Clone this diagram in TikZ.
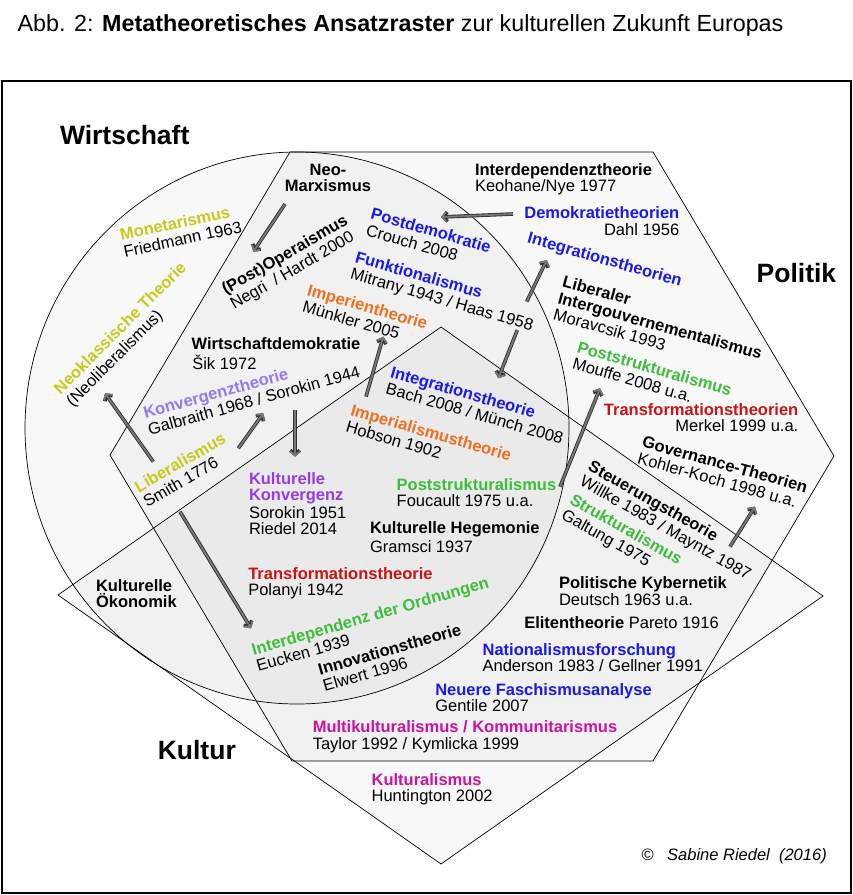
\documentclass[tikz,border=0pt]{standalone}
\usepackage{fontspec}
\setmainfont{Liberation Sans}
\usetikzlibrary{arrows.meta}
\definecolor{cyel}{RGB}{200,200,30}
\definecolor{cblue}{RGB}{25,25,235}
\definecolor{corange}{RGB}{240,110,30}
\definecolor{cgreen}{RGB}{60,190,60}
\definecolor{cred}{RGB}{200,20,20}
\definecolor{clav}{RGB}{150,120,240}
\definecolor{cpurp}{RGB}{150,60,230}
\definecolor{cmag}{RGB}{200,20,160}
\definecolor{agray}{RGB}{120,120,120}
\definecolor{adark}{RGB}{50,50,50}
\newcommand{\nm}[2]{\textcolor{#1}{\bfseries #2}}
\begin{document}
\begin{tikzpicture}[x=1pt,y=-1pt,
  tx/.style={inner sep=0pt, outer sep=0pt, font=\fontsize{16.5}{17.2}\selectfont},
  blk/.style={tx, align=left},
  big/.style={inner sep=0pt, outer sep=0pt, font=\fontsize{26.5}{30}\selectfont\bfseries},
  shp/.style={draw=black, line width=0.7pt, fill=black, fill opacity=0.028},
  garrow/.style={draw=agray, line width=1.8pt, -{Straight Barb[length=4pt,width=9.5pt]},
     preaction={draw=adark, line width=3.6pt, -{Straight Barb[length=4pt,width=9.5pt]}}}
]
\useasboundingbox (0,0) rectangle (853,895);
\fill[white] (0,0) rectangle (853,895);
\draw[line width=2pt] (2,81) rectangle (851,893);

% shapes
\path[shp] (297,428) ellipse [x radius=272pt, y radius=276pt];
\path[shp] (290,152) -- (653,152) -- (834,456) -- (653,761) -- (292,761) -- (110,455) -- cycle;
\path[shp] (441,327) -- (823,596) -- (441,864) -- (58,595) -- cycle;

% title and area names
\node[anchor=base west, inner sep=0pt, font=\fontsize{23.3}{26}\selectfont] (title) at (17.4,31.7)
  {Abb. 2: \textbf{Metatheoretisches Ansatzraster} zur kulturellen Zukunft Europas};
\node[big, anchor=base west] (wirt) at (60,144.3) {Wirtschaft};
\node[big, anchor=base west] (pol) at (756.7,282.7) {Politik};
\node[big, anchor=base west] (kul) at (157.8,759) {Kultur};
\node[anchor=base east, inner sep=0pt, font=\fontsize{16.5}{18}\selectfont\itshape] (copy) at (827,860)
  {©\ \ \ Sabine Riedel\ \ (2016)};

% rotated blocks
\node[blk, rotate=12] (mon) at (180.8,230.6) {\nm{cyel}{Monetarismus}\\Friedmann 1963};
\node[blk, rotate=45] (neokl) at (127,335) {\nm{cyel}{Neoklassische Theorie}\\(Neoliberalismus)};
\node[blk, rotate=30] (postop) at (289.5,263.2) {\bfseries (Post)Operaismus\\Negri\ \ / Hardt 2000};
\node[blk, rotate=-16] (postdem) at (428.6,238.4) {\nm{cblue}{Postdemokratie}\\Crouch 2008};
\node[blk, rotate=-16] (funkt) at (444.1,292.4) {\nm{cblue}{Funktionalismus}\\Mitrany 1943 / Haas 1958};
\node[blk, rotate=-16] (imperien) at (365.2,315) {\nm{corange}{Imperientheorie}\\Münkler 2005};
\node[blk, rotate=15.5] (konv) at (251.6,392.1) {\nm{clav}{Konvergenztheorie}\\Galbraith 1968 / Sorokin 1944};
\node[blk, rotate=30] (liberal) at (184.2,469.9) {\nm{cyel}{Liberalismus}\\Smith 1776};
\node[blk, rotate=-16] (integ) at (477.1,404.9) {\nm{cblue}{Integrationstheorie}\\Bach 2008 / Münch 2008};
\node[blk, rotate=-16] (imperial) at (428.8,440.8) {\nm{corange}{Imperialismustheorie}\\Hobson 1902};
\node[tx, rotate=-16] (integn) at (604.5,260.4) {\nm{cblue}{Integrationstheorien}};
\node[blk, rotate=-15.5] (libint) at (660.2,325.5) {\bfseries Liberaler\\\bfseries Intergouvernementalismus\\Moravcsik 1993};
\node[blk, rotate=-16] (mouffe) at (652.3,376.6) {\nm{cgreen}{Poststrukturalismus}\\Mouffe 2008 u.a.};
\node[blk, rotate=-15.6] (gov) at (722.7,472.5) {\bfseries Governance-Theorien\\Kohler-Koch 1998 u.a.};
\node[blk, rotate=-29.5] (steuer) at (669.3,521.3) {\bfseries Steuerungstheorie\\Willke 1983 / Mayntz 1987};
\node[blk, rotate=-29.5] (struk) at (621.4,537.9) {\nm{cgreen}{Strukturalismus}\\Galtung 1975};
\node[blk, rotate=16] (interd) at (372.5,624) {\nm{cgreen}{Interdependenz der Ordnungen}\\Eucken 1939};
\node[blk, rotate=16] (innov) at (391.9,657.5) {\bfseries Innovationstheorie\\Elwert 1996};

% horizontal lines
\node[tx, anchor=base] (neo1) at (328,175) {\bfseries Neo-};
\node[tx, anchor=base] (neo2) at (328,191.7) {\bfseries Marxismus};
\node[tx, anchor=base west] (wd1) at (191.7,349.3) {\bfseries Wirtschaftdemokratie};
\node[tx, anchor=base west] (wd2) at (192.3,369) {Šik 1972};
\node[tx, anchor=base west] (kk1) at (249,484.3) {\nm{cpurp}{Kulturelle}};
\node[tx, anchor=base west] (kk2) at (249,500.7) {\nm{cpurp}{Konvergenz}};
\node[tx, anchor=base west] (kk3) at (249,518.3) {Sorokin 1951};
\node[tx, anchor=base west] (kk4) at (249,534.3) {Riedel 2014};
\node[tx, anchor=base west] (ps1) at (396.7,490) {\nm{cgreen}{Poststrukturalismus}};
\node[tx, anchor=base west] (ps2) at (396.7,506) {Foucault 1975 u.a.};
\node[tx, anchor=base west] (kh1) at (370,533.3) {\bfseries Kulturelle Hegemonie};
\node[tx, anchor=base west] (kh2) at (370,552.7) {Gramsci 1937};
\node[tx, anchor=base west] (tt1) at (248.3,579.3) {\nm{cred}{Transformationstheorie}};
\node[tx, anchor=base west] (tt2) at (248.3,595.7) {Polanyi 1942};
\node[tx, anchor=base west] (ko1) at (96,591) {\bfseries Kulturelle};
\node[tx, anchor=base west] (ko2) at (96,607.3) {\bfseries Ökonomik};
\node[tx, anchor=base west] (it1) at (475,175) {\bfseries Interdependenztheorie};
\node[tx, anchor=base west] (it2) at (475,191.7) {Keohane/Nye 1977};
\node[tx, anchor=base east] (dt1) at (679.3,218.3) {\nm{cblue}{Demokratietheorien}};
\node[tx, anchor=base east] (dt2) at (679.3,235.7) {Dahl 1956};
\node[tx, anchor=base east] (tr1) at (798.3,415) {\nm{cred}{Transformationstheorien}};
\node[tx, anchor=base east] (tr2) at (798.3,431.7) {Merkel 1999 u.a.};
\node[tx, anchor=base west] (pk1) at (559,588.3) {\bfseries Politische Kybernetik};
\node[tx, anchor=base west] (pk2) at (559,605) {Deutsch 1963 u.a.};
\node[tx, anchor=base west] (el) at (524.3,628.3) {\textbf{Elitentheorie} Pareto 1916};
\node[tx, anchor=base west] (nf1) at (482.6,655.7) {\nm{cblue}{Nationalismusforschung}};
\node[tx, anchor=base west] (nf2) at (482.6,671.7) {Anderson 1983 / Gellner 1991};
\node[tx, anchor=base west] (fa1) at (435.3,695) {\nm{cblue}{Neuere Faschismusanalyse}};
\node[tx, anchor=base west] (fa2) at (435.3,711.7) {Gentile 2007};
\node[tx, anchor=base west] (mk1) at (312.8,732.7) {\nm{cmag}{Multikulturalismus / Kommunitarismus}};
\node[tx, anchor=base west] (mk2) at (312.8,749) {Taylor 1992 / Kymlicka 1999};
\node[tx, anchor=base west] (ku1) at (371.6,785) {\nm{cmag}{Kulturalismus}};
\node[tx, anchor=base west] (ku2) at (371.6,801.7) {Huntington 2002};

% arrow end points
\coordinate (a1s) at (285,204);   \coordinate (a1e) at (253.3,251.7);
\coordinate (a2s) at (513,214);   \coordinate (a2e) at (441,217);
\coordinate (a3s) at (526.7,301.7); \coordinate (a3e) at (546.7,260);
\coordinate (a4s) at (517.3,330); \coordinate (a4e) at (498.3,378.3);
\coordinate (a5s) at (366,396.7); \coordinate (a5e) at (383.3,336.7);
\coordinate (a6s) at (153.3,461.7); \coordinate (a6e) at (105,393.3);
\coordinate (a7s) at (238.3,448.3); \coordinate (a7e) at (263.3,413.3);
\coordinate (a8s) at (295,410);   \coordinate (a8e) at (295,456.7);
\coordinate (a9s) at (180,511.7); \coordinate (a9e) at (251,628.3);
\coordinate (a10s) at (560,486.7); \coordinate (a10e) at (600,388.3);
\coordinate (a11s) at (730,546.7); \coordinate (a11e) at (755,506.7);

\foreach \i in {1,...,11} {\draw[garrow] (a\i s) -- (a\i e);}
\end{tikzpicture}
\end{document}
